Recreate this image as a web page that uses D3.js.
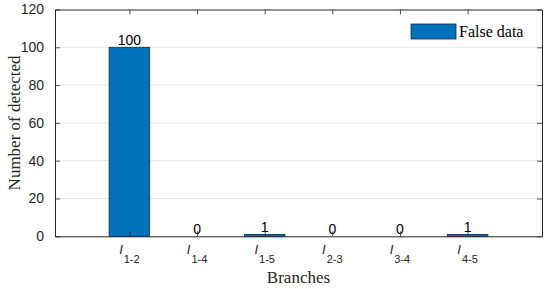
<!DOCTYPE html>
<html>
<head>
<meta charset="utf-8">
<script src="https://cdn.jsdelivr.net/npm/d3@7"></script>
<style>
html,body{margin:0;padding:0;background:#fff;}
</style>
</head>
<body>
<svg id="chart" width="550" height="289"></svg>
<script>
const categories = ["1-2", "1-4", "1-5", "2-3", "3-4", "4-5"];
const values = [100, 0, 1, 0, 0, 1];
const yTicks = [0, 20, 40, 60, 80, 100, 120];
const seriesName = "False data";

const svg = d3.select("#chart");
const L = 55, R = 542, T = 9.5, B = 236.3;

const x = d3.scaleLinear().domain([-0.1, 7.1]).range([L, R]);
const y = d3.scaleLinear().domain([0, 120]).range([B, T]);
const barW = (x(1) - x(0)) * 0.6;
const axisColor = "#262626";

// grid
svg.append("g").selectAll("line").data(yTicks.slice(1, -1)).join("line")
  .attr("x1", L).attr("x2", R)
  .attr("y1", d => y(d)).attr("y2", d => y(d))
  .attr("stroke", "#e6e6e6").attr("stroke-width", 1);

// bars
svg.append("g").selectAll("rect").data(values).join("rect")
  .attr("x", (d, i) => x(i + 1) - barW / 2)
  .attr("width", barW)
  .attr("y", d => y(d))
  .attr("height", d => B - y(d))
  .attr("fill", "#0072BD")
  .attr("stroke", "#1a2a3a")
  .attr("stroke-width", 0.8);

// value labels
svg.append("g").selectAll("text").data(values).join("text")
  .attr("x", (d, i) => x(i + 1))
  .attr("y", d => y(d) - 2.5)
  .attr("text-anchor", "middle")
  .attr("font-family", "Liberation Sans, Arial, sans-serif")
  .attr("font-size", 14)
  .attr("fill", "#000")
  .text(d => d);

// axes
const tickLen = 5;
const yAxisL = d3.axisLeft(y).tickValues(yTicks).tickSizeInner(-tickLen).tickSizeOuter(0).tickPadding(6 + tickLen);
const yAxisR = d3.axisRight(y).tickValues(yTicks).tickSizeInner(-tickLen).tickSizeOuter(0).tickFormat("");
const xAxisB = d3.axisBottom(x).tickValues(d3.range(1, categories.length + 1)).tickSizeInner(-tickLen).tickSizeOuter(0).tickFormat("");
const xAxisT = d3.axisTop(x).tickValues(d3.range(1, categories.length + 1)).tickSizeInner(-tickLen).tickSizeOuter(0).tickFormat("");

const gyl = svg.append("g").attr("transform", `translate(${L},0)`).call(yAxisL);
const gyr = svg.append("g").attr("transform", `translate(${R},0)`).call(yAxisR);
const gxb = svg.append("g").attr("transform", `translate(0,${B})`).call(xAxisB);
const gxt = svg.append("g").attr("transform", `translate(0,${T})`).call(xAxisT);
[gyl, gyr, gxb, gxt].forEach(g => {
  g.select(".domain").attr("stroke", axisColor).attr("stroke-width", 1);
  g.selectAll(".tick line").attr("stroke", axisColor).attr("stroke-width", 0.8);
});
gyl.selectAll(".tick text")
  .attr("font-family", "Liberation Sans, Arial, sans-serif")
  .attr("font-size", 14).attr("fill", axisColor);

// x tick labels with subscripts
const xl = svg.append("g").selectAll("text").data(categories).join("text")
  .attr("x", (d, i) => x(i + 1))
  .attr("y", 254)
  .attr("text-anchor", "middle")
  .attr("font-family", "Liberation Sans, Arial, sans-serif")
  .attr("fill", axisColor);
xl.append("tspan").attr("font-style", "italic").attr("font-size", 13).text("I");
xl.append("tspan").attr("font-size", 11).attr("dy", 8.5).attr("dx", 1).text(d => d);

// axis titles
svg.append("text")
  .attr("x", (L + R) / 2).attr("y", 283)
  .attr("text-anchor", "middle")
  .attr("font-family", "Liberation Serif, Times New Roman, serif")
  .attr("font-size", 17).attr("fill", axisColor)
  .text("Branches");
svg.append("text")
  .attr("transform", `translate(20,${(T + B) / 2}) rotate(-90)`)
  .attr("text-anchor", "middle")
  .attr("font-family", "Liberation Serif, Times New Roman, serif")
  .attr("font-size", 17).attr("fill", axisColor)
  .text("Number of detected");

// legend
const lg = svg.append("g");
lg.append("rect").attr("x", 411).attr("y", 24).attr("width", 45).attr("height", 15)
  .attr("fill", "#0072BD").attr("stroke", "#1a2a3a").attr("stroke-width", 0.8);
lg.append("text").attr("x", 459).attr("y", 37)
  .attr("font-family", "Liberation Serif, Times New Roman, serif")
  .attr("font-size", 16).attr("fill", "#000")
  .text(seriesName);
</script>
</body>
</html>
